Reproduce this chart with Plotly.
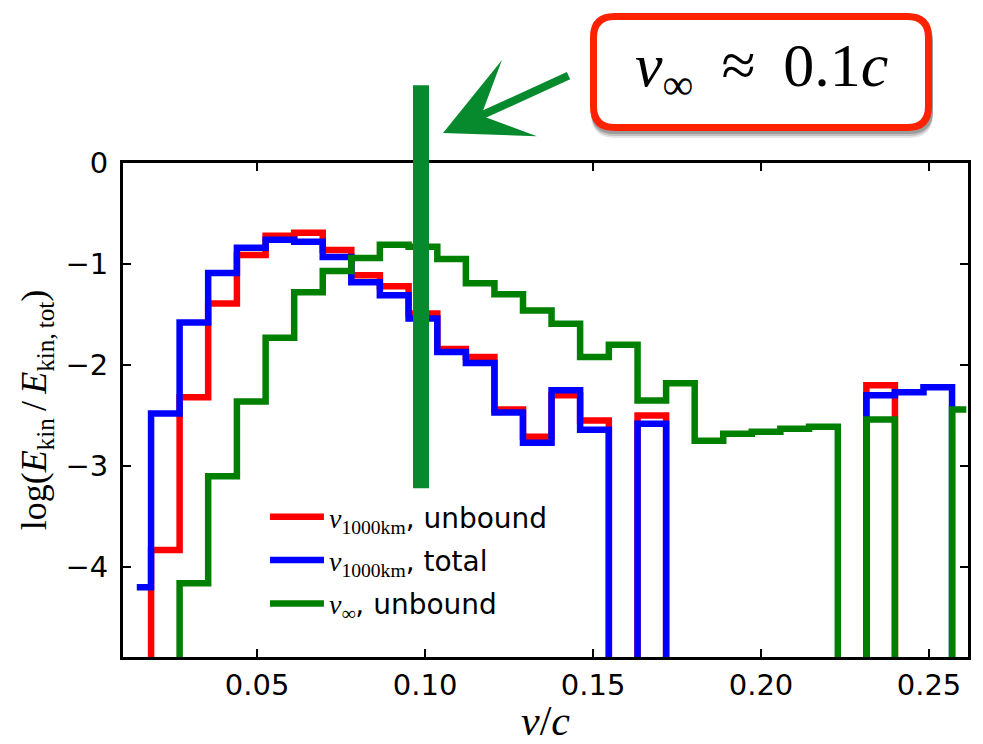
import plotly.graph_objects as go

# ---------------- data ----------------
EMPTY = -10.0  # empty bins (log of zero) drawn below the axis

bin_centers = [0.0142, 0.0227, 0.0312, 0.0397, 0.0483, 0.0568, 0.0653, 0.0738,
               0.0823, 0.0908, 0.0994, 0.1079, 0.1164, 0.1249, 0.1334, 0.1419,
               0.1504, 0.1590, 0.1675, 0.1760, 0.1845, 0.1930, 0.2015, 0.2100,
               0.2186, 0.2271, 0.2356, 0.2441, 0.2526, 0.2611]

log_ek_1000km_unbound = [EMPTY, -3.83, -2.32, -1.39, -0.91, -0.72, -0.69, -0.86,
                         -1.11, -1.22, -1.49, -1.84, -1.92, -2.44, -2.71, -2.30,
                         -2.55, EMPTY, -2.50, EMPTY, EMPTY, EMPTY, EMPTY, EMPTY,
                         EMPTY, EMPTY, -2.20, EMPTY, EMPTY, EMPTY]

log_ek_1000km_total = [-4.20, -2.48, -1.58, -1.09, -0.84, -0.76, -0.78, -0.93,
                       -1.18, -1.31, -1.54, -1.87, -1.98, -2.47, -2.77, -2.25,
                       -2.64, EMPTY, -2.58, EMPTY, EMPTY, EMPTY, EMPTY, EMPTY,
                       EMPTY, EMPTY, -2.30, -2.27, -2.22, EMPTY]

log_ek_vinf_unbound = [EMPTY, EMPTY, -4.16, -3.10, -2.36, -1.73, -1.28, -1.07,
                       -0.94, -0.81, -0.83, -0.95, -1.19, -1.30, -1.46, -1.59,
                       -1.92, -1.80, -2.35, -2.18, -2.75, -2.68, -2.66, -2.63,
                       -2.61, EMPTY, -2.54, EMPTY, EMPTY, -2.44]

SERIF = "Liberation Serif"
series_names = [f"<span style='font-family:{SERIF}'><i>v</i><sub>1000km</sub></span>, unbound",
                f"<span style='font-family:{SERIF}'><i>v</i><sub>1000km</sub></span>, total",
                f"<span style='font-family:{SERIF}'><i>v</i><sub>∞</sub></span>, unbound"]
series_colors = ["#ff0000", "#0000ff", "#008000"]

x_ticks = [0.05, 0.10, 0.15, 0.20, 0.25]
x_tick_labels = ["0.05", "0.10", "0.15", "0.20", "0.25"]
y_ticks = [0, -1, -2, -3, -4]
y_tick_labels = ["0", "−1", "−2", "−3", "−4"]

X_RANGE = [0.0101, 0.2616]
Y_RANGE = [-4.89, 0.0]

V_MARK = 0.0988          # location of the highlighted v_inf ~ 0.1c
V_MARK_Y = [-3.22, 0.77]  # vertical extent of the highlight bar (data units)

# ---------------- layout geometry ----------------
FIG_W, FIG_H = 983, 744
ML, MR, MT, MB = 123, 15, 163, 87
PW = FIG_W - ML - MR
PH = FIG_H - MT - MB


def px2paper(px, py):
    return (px - ML) / PW, (MT + PH - py) / PH


def rounded_rect_path(x0, y0, x1, y1, r):
    pts = []

    def P(px, py):
        X, Y = px2paper(px, py)
        return f"{X:.5f},{Y:.5f}"
    pts.append("M" + P(x0 + r, y0))
    pts.append("L" + P(x1 - r, y0))
    pts.append("Q" + P(x1, y0) + " " + P(x1, y0 + r))
    pts.append("L" + P(x1, y1 - r))
    pts.append("Q" + P(x1, y1) + " " + P(x1 - r, y1))
    pts.append("L" + P(x0 + r, y1))
    pts.append("Q" + P(x0, y1) + " " + P(x0, y1 - r))
    pts.append("L" + P(x0, y0 + r))
    pts.append("Q" + P(x0, y0) + " " + P(x0 + r, y0))
    return " ".join(pts) + " Z"


fig = go.Figure()

series = [log_ek_1000km_unbound, log_ek_1000km_total, log_ek_vinf_unbound]
for i, (vals, name, col) in enumerate(zip(series, series_names, series_colors)):
    fig.add_trace(go.Scatter(
        x=bin_centers, y=vals, mode="lines", name=name,
        line=dict(color=col, width=6.5, shape="hvh"),
        legendgroup=f"g{i}",
    ))

axis_common = dict(
    showline=True, linecolor="black", linewidth=3, mirror="ticks",
    ticks="inside", ticklen=8, tickwidth=2, tickcolor="black",
    showgrid=False, zeroline=False, automargin=False,
    tickfont=dict(family="DejaVu Sans", size=29, color="black"),
)

fig.update_xaxes(range=X_RANGE, tickvals=x_ticks, ticktext=x_tick_labels,
                 title=dict(text="<i>v</i>/<i>c</i>",
                            font=dict(family=SERIF, size=42, color="black"),
                            standoff=12),
                 **axis_common)
fig.update_yaxes(range=Y_RANGE, tickvals=y_ticks, ticktext=y_tick_labels,
                 title=dict(text="log(<i>E</i><sub>kin</sub>\u2009/\u2009<i>E</i><sub>kin,\u2009tot</sub>)",
                            font=dict(family=SERIF, size=36, color="black"),
                            standoff=8),
                 ticklabelstandoff=6,
                 **axis_common)

# highlight bar at v_inf ~ 0.1c
bar_x = (V_MARK - X_RANGE[0]) / (X_RANGE[1] - X_RANGE[0])
bar_y0 = (V_MARK_Y[0] - Y_RANGE[0]) / (Y_RANGE[1] - Y_RANGE[0])
bar_y1 = (V_MARK_Y[1] - Y_RANGE[0]) / (Y_RANGE[1] - Y_RANGE[0])
shapes = [dict(type="line", xref="paper", yref="paper", x0=bar_x, x1=bar_x,
               y0=bar_y0, y1=bar_y1, line=dict(color="#078a2d", width=16), layer="above")]

# callout box with soft shadow
for off, op in [(7, 0.10), (5, 0.15), (3, 0.20)]:
    shapes.append(dict(type="path", xref="paper", yref="paper",
                       path=rounded_rect_path(590 + 1, 13 + off, 932 + 1, 131 + off, 24),
                       fillcolor=f"rgba(0,0,0,{op})", line=dict(width=0), layer="above"))
shapes.append(dict(type="path", xref="paper", yref="paper",
                   path=rounded_rect_path(593.5, 16.5, 928.5, 127.5, 21),
                   fillcolor="white", line=dict(color="#ff2200", width=7), layer="above"))

tip_x, tip_y = px2paper(443, 133)
box_cx, box_cy = px2paper(761, 70)
annotations = [
    dict(xref="paper", yref="paper", x=box_cx, y=box_cy, showarrow=False,
         text="<i>v</i><sub>∞</sub>\u00a0\u2009≈\u00a0\u20090.1<i>c</i>",
         font=dict(family=SERIF, size=62, color="black"),
         xanchor="center", yanchor="middle"),
    dict(xref="paper", yref="paper", x=tip_x, y=tip_y, text="", showarrow=True,
         ax=127, ay=-58, arrowhead=3, arrowsize=1.75, arrowwidth=8,
         arrowcolor="#078a2d", standoff=0),
]

fig.update_layout(
    width=FIG_W, height=FIG_H,
    margin=dict(l=ML, r=MR, t=MT, b=MB, autoexpand=False),
    paper_bgcolor="white", plot_bgcolor="white",
    shapes=shapes, annotations=annotations,
    showlegend=True,
    legend=dict(x=0.168, y=0.334, xanchor="left", yanchor="top",
                bgcolor="rgba(0,0,0,0)", borderwidth=0,
                font=dict(family="DejaVu Sans", size=28, color="black"),
                itemwidth=54, tracegroupgap=4),
)

fig.write_html("out.html")
